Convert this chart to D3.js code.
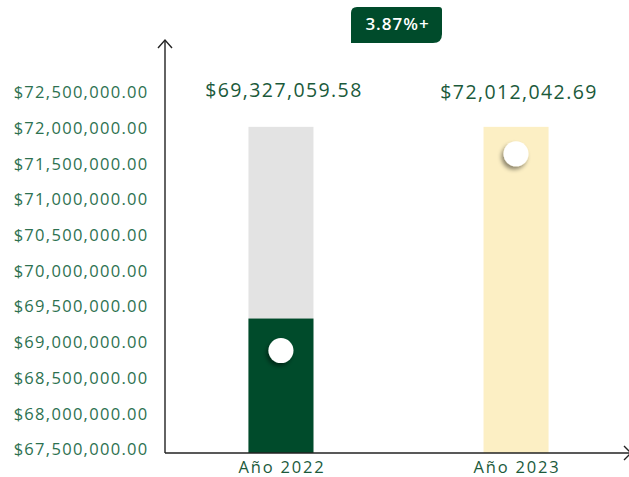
<!doctype html>
<html lang="es">
<head>
<meta charset="utf-8">
<title>Comparativo 2022 - 2023</title>
<script src="https://d3js.org/d3.v7.min.js"></script>
<style>
  body { margin: 0; background: #fff; }
  svg { display: block; font-family: "Open Sans", "Noto Sans", sans-serif; }
</style>
</head>
<body>
<div id="chart"></div>
<script>
// datos
var years = ["Año 2022", "Año 2023"];
var amounts = [69327059.58, 72012042.69];
var amountLabels = ["$69,327,059.58", "$72,012,042.69"];
var tickValues = [67500000, 68000000, 68500000, 69000000, 69500000, 70000000,
                  70500000, 71000000, 71500000, 72000000, 72500000];
var changeLabel = "3.87%+";

var w = 629, h = 477;
var x0 = 165, baseY = 453;

var svg = d3.select("#chart").append("svg")
  .attr("width", w)
  .attr("height", h);

var defs = svg.append("defs");
var f = defs.append("filter").attr("id", "sh")
  .attr("x", "-50%").attr("y", "-50%").attr("width", "200%").attr("height", "200%");
f.append("feDropShadow").attr("dx", -2).attr("dy", 3).attr("stdDeviation", 2)
  .attr("flood-color", "#000").attr("flood-opacity", 0.45);

var y = d3.scaleLinear().domain([67500000, 72500000]).range([449, 92]);
var x = d3.scaleBand().domain(years).range([165, 632]).paddingInner(0.7234).paddingOuter(0.355);

var fmt = d3.format("$,.2f");

// eje y (solo etiquetas)
var yAxis = d3.axisLeft(y).tickValues(tickValues).tickFormat(fmt).tickSize(0).tickPadding(0);
var gy = svg.append("g").attr("transform", "translate(148.5,0)").call(yAxis);
gy.select(".domain").remove();
gy.selectAll("text")
  .attr("fill", "#2d7150")
  .style("font-family", "'Open Sans', sans-serif")
  .style("font-size", "16.5px")
  .style("letter-spacing", "1.3px")
  .attr("dy", "0.35em");

var maxV = d3.max(amounts);
var colors = ["#e3e3e3", "#fcefc4"];

// barras de fondo
svg.selectAll(".bg").data(years).join("rect")
  .attr("x", function(d) { return x(d); })
  .attr("y", y(maxV))
  .attr("width", x.bandwidth())
  .attr("height", baseY - y(maxV))
  .attr("fill", function(d, i) { return colors[i]; });

// barra 2022
svg.append("rect")
  .attr("x", x(years[0]))
  .attr("y", y(amounts[0]))
  .attr("width", x.bandwidth())
  .attr("height", baseY - y(amounts[0]))
  .attr("fill", "#004b2b");

// circulos
svg.selectAll(".dot").data(amounts).join("circle")
  .attr("cx", function(d, i) { return x(years[i]) + x.bandwidth() / 2; })
  .attr("cy", function(d, i) { return y(d) + (i == 0 ? 32 : 27); })
  .attr("r", 12.5)
  .attr("fill", "#fff")
  .attr("filter", "url(#sh)");

// etiquetas de valor
svg.selectAll(".val").data(amountLabels).join("text")
  .attr("x", function(d, i) { return x(years[i]) + x.bandwidth() / 2 + 3; })
  .attr("y", function(d, i) { return i == 0 ? 97 : 99; })
  .attr("text-anchor", "middle")
  .attr("fill", "#1b5a3b")
  .style("font-size", "19.5px")
  .style("letter-spacing", "1.4px")
  .text(function(d) { return d; });

// etiquetas x
svg.selectAll(".xl").data(years).join("text")
  .attr("x", function(d) { return x(d) + x.bandwidth() / 2 + 1; })
  .attr("y", 473)
  .attr("text-anchor", "middle")
  .attr("fill", "#1b5a3b")
  .style("font-size", "16.5px")
  .style("letter-spacing", "1.8px")
  .text(function(d) { return d; });

// ejes con flecha
var ax = svg.append("g").attr("stroke", "#222").attr("stroke-width", 1.4).attr("fill", "none");
ax.append("path").attr("d", "M" + x0 + "," + baseY + "V40");
ax.append("path").attr("d", "M" + (x0 - 7) + ",48L" + x0 + ",40L" + (x0 + 7) + ",48");
ax.append("path").attr("d", "M" + x0 + "," + baseY + "H631");
ax.append("path").attr("d", "M624,446L631,453L624,460");

// etiqueta de cambio
var bx = 351, by = 7, bw = 91, bh = 36;
svg.append("path")
  .attr("d", "M" + (bx + 6) + "," + by + "H" + (bx + bw - 3) +
    "Q" + (bx + bw) + "," + by + " " + (bx + bw) + "," + (by + 3) +
    "V" + (by + bh - 9) + "Q" + (bx + bw) + "," + (by + bh) + " " + (bx + bw - 9) + "," + (by + bh) +
    "H" + bx + "V" + (by + 6) + "Q" + bx + "," + by + " " + (bx + 6) + "," + by + "Z")
  .attr("fill", "#004b2b");
svg.append("text")
  .attr("x", bx + bw / 2 + 1)
  .attr("y", by + 23)
  .attr("text-anchor", "middle")
  .attr("fill", "#fff")
  .style("font-size", "17px")
  .style("font-weight", "600")
  .style("letter-spacing", "1px")
  .text(changeLabel);
</script>
</body>
</html>
